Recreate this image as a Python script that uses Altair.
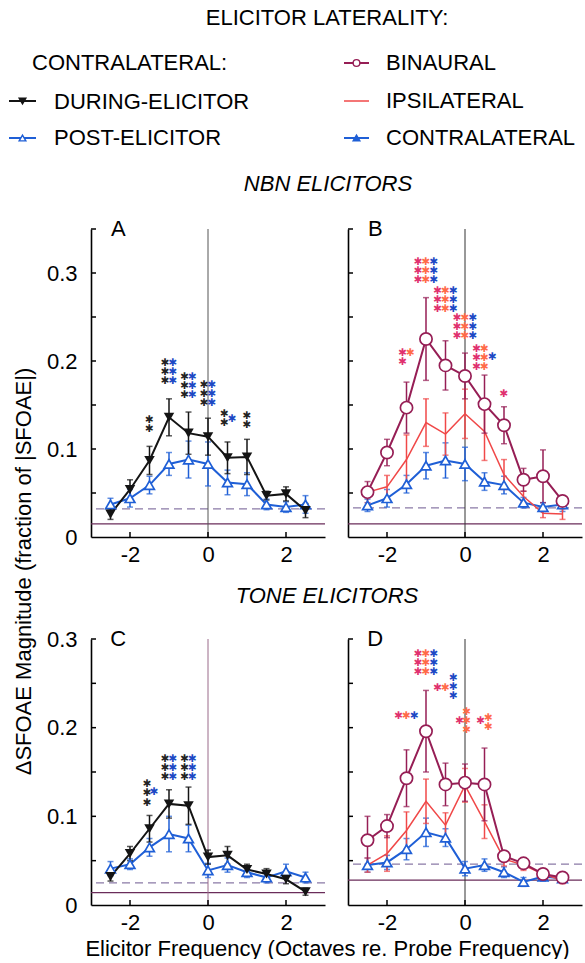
import altair as alt
import pandas as pd

FONT = "Liberation Sans"

# ---------------- data ----------------
X = [-2.5, -2.0, -1.5, -1.0, -0.5, 0.0, 0.5, 1.0, 1.5, 2.0, 2.5]

# Panel A : NBN elicitors, contralateral during / post
A_during = [0.026, 0.054, 0.087, 0.136, 0.118, 0.114, 0.090, 0.091, 0.047, 0.049, 0.030]
A_during_err = [0.006, 0.011, 0.016, 0.021, 0.024, 0.021, 0.018, 0.020, 0.005, 0.008, 0.008]
A_post = [0.037, 0.044, 0.059, 0.083, 0.088, 0.083, 0.062, 0.060, 0.037, 0.034, 0.037]
A_post_err = [0.007, 0.010, 0.010, 0.013, 0.021, 0.025, 0.014, 0.013, 0.006, 0.006, 0.010]

# Panel B : NBN elicitors, laterality
B_bin = [0.051, 0.096, 0.147, 0.225, 0.195, 0.183, 0.151, 0.127, 0.065, 0.069, 0.041]
B_bin_err = [0.012, 0.015, 0.029, 0.047, 0.028, 0.026, 0.033, 0.021, 0.013, 0.030, 0.005]
B_ipsi = [0.051, 0.057, 0.088, 0.130, 0.117, 0.140, 0.120, 0.071, 0.046, 0.027, 0.026]
B_ipsi_err = [0.006, 0.013, 0.028, 0.027, 0.024, 0.028, 0.033, 0.017, 0.006, 0.005, 0.006]
B_contra = [0.036, 0.044, 0.060, 0.081, 0.087, 0.083, 0.063, 0.059, 0.039, 0.034, 0.037]
B_contra_err = [0.007, 0.010, 0.010, 0.015, 0.020, 0.019, 0.010, 0.010, 0.006, 0.005, 0.008]

# Panel C : tone elicitors, contralateral during / post
C_during = [0.032, 0.058, 0.086, 0.114, 0.112, 0.054, 0.056, 0.040, 0.035, 0.029, 0.015]
C_during_err = [0.005, 0.008, 0.015, 0.016, 0.021, 0.008, 0.010, 0.006, 0.006, 0.005, 0.004]
C_post = [0.041, 0.046, 0.065, 0.080, 0.075, 0.039, 0.045, 0.037, 0.031, 0.038, 0.031]
C_post_err = [0.008, 0.006, 0.010, 0.020, 0.015, 0.008, 0.008, 0.006, 0.006, 0.008, 0.006]

# Panel D : tone elicitors, laterality
D_bin = [0.073, 0.089, 0.143, 0.196, 0.136, 0.138, 0.136, 0.055, 0.047, 0.035, 0.031]
D_bin_err = [0.027, 0.013, 0.032, 0.046, 0.024, 0.021, 0.041, 0.006, 0.005, 0.005, 0.004]
D_ipsi = [0.045, 0.058, 0.084, 0.117, 0.090, 0.135, 0.094, 0.052, 0.045, 0.035, 0.028]
D_ipsi_err = [0.008, 0.020, 0.021, 0.025, 0.014, 0.019, 0.019, 0.008, 0.006, 0.005, 0.004]
D_contra = [0.045, 0.048, 0.063, 0.082, 0.076, 0.041, 0.045, 0.037, 0.026, 0.032, 0.030]
D_contra_err = [0.008, 0.008, 0.012, 0.016, 0.010, 0.008, 0.007, 0.006, 0.005, 0.005, 0.004]

# reference lines (dashed, solid) per panel
A_REF = (0.032, 0.015)
B_REF = (0.033, 0.015)
C_REF = (0.025, 0.014)
D_REF = (0.046, 0.028)

# significance stars: (x, column, top value, count, series)
A_STARS = [(-1.5, 0, 0.133, 2, "k"),
           (-1.0, -0.5, 0.198, 3, "k"), (-1.0, 0.5, 0.198, 3, "b"),
           (-0.5, -0.5, 0.182, 3, "k"), (-0.5, 0.5, 0.182, 3, "b"),
           (0.0, -0.5, 0.173, 3, "k"), (0.0, 0.5, 0.173, 3, "b"),
           (0.5, -0.4, 0.140, 2, "k"), (0.5, 0.6, 0.134, 1, "b"),
           (1.0, 0, 0.137, 2, "k")]
B_STARS = [(-1.5, -0.5, 0.209, 2, "m"), (-1.5, 0.5, 0.209, 1, "r"),
           (-1.0, -1, 0.312, 3, "m"), (-1.0, 0, 0.312, 3, "r"), (-1.0, 1, 0.312, 3, "b"),
           (-0.5, -1, 0.279, 3, "m"), (-0.5, 0, 0.279, 3, "r"), (-0.5, 1, 0.279, 3, "b"),
           (0.0, -1, 0.249, 3, "m"), (0.0, 0, 0.249, 3, "r"), (0.0, 1, 0.249, 3, "b"),
           (0.5, -1, 0.214, 3, "m"), (0.5, 0, 0.214, 3, "r"), (0.5, 1, 0.204, 1, "b"),
           (1.0, 0, 0.162, 1, "m")]
C_STARS = [(-1.5, -0.3, 0.136, 3, "k"), (-1.5, 0.6, 0.127, 1, "b"),
           (-1.0, -0.5, 0.165, 3, "k"), (-1.0, 0.5, 0.165, 3, "b"),
           (-0.5, -0.5, 0.165, 3, "k"), (-0.5, 0.5, 0.165, 3, "b")]
D_STARS = [(-1.5, -1, 0.213, 1, "m"), (-1.5, 0, 0.213, 1, "r"), (-1.5, 1, 0.213, 1, "b"),
           (-1.0, -1, 0.283, 3, "m"), (-1.0, 0, 0.283, 3, "r"), (-1.0, 1, 0.283, 3, "b"),
           (-0.5, -1, 0.245, 1, "m"), (-0.5, 0, 0.245, 1, "r"), (-0.5, 1, 0.256, 3, "b"),
           (0.0, -0.7, 0.207, 1, "m"), (0.0, 0.2, 0.218, 3, "r"),
           (0.5, -0.5, 0.207, 1, "m"), (0.5, 0.5, 0.211, 2, "r")]

# legend / titles
LEGEND_TITLE = "ELICITOR LATERALITY:"
LEGEND_LEFT_HEAD = "CONTRALATERAL:"
LEGEND_LEFT = ["DURING-ELICITOR", "POST-ELICITOR"]
LEGEND_RIGHT = ["BINAURAL", "IPSILATERAL", "CONTRALATERAL"]
ROW_TITLES = ["NBN ELICITORS", "TONE ELICITORS"]
X_TITLE = "Elicitor Frequency (Octaves re. Probe Frequency)"
Y_TITLE = "\u0394SFOAE Magnitude (fraction of |SFOAE|)"

# ---------------- style ----------------
C_BLACK = "#141414"
C_BLUE = "#1f5fd6"
C_BIN = "#961e55"
C_IPSI = "#f04848"
STAR_COL = {"k": "#222222", "b": "#1c48c4", "m": "#e0306e", "r": "#ff6a48"}
PW = 234
STEP = 0.0102
COLW = 0.2


def sdf(vals, errs):
    return pd.DataFrame({"x": X, "y": vals,
                         "lo": [v - e for v, e in zip(vals, errs)],
                         "hi": [v + e for v, e in zip(vals, errs)]})


def panel(series, refs, stars, letter, ymax, h, ylabels, vcolor, titles=False, row_title=None):
    xs = alt.Scale(domain=[-3, 3], nice=False, zero=False)
    ys = alt.Scale(domain=[0, ymax], nice=False, zero=True)
    xa = dict(values=[-2, 0, 2], ticks=False, grid=False, labelExpr="'' + datum.value",
              labelFontSize=22, labelFont=FONT, labelColor="black", labelPadding=7,
              domainColor="black", domainWidth=1.6)
    ya = dict(values=[0, 0.1, 0.2, 0.3], ticks=False, grid=False, labelExpr="'' + datum.value",
              labelFontSize=22, labelFont=FONT, labelColor="black", labelPadding=14,
              domainColor="black", domainWidth=1.6, labels=ylabels)
    if titles:
        xa.update(title=X_TITLE, titleX=236, titleY=43, titleFontSize=22, titleFont=FONT,
                  titleFontWeight="normal", titleAlign="center", titleBaseline="middle",
                  titleColor="black")
        ya.update(title=Y_TITLE, titleX=-68, titleY=-68, titleAngle=270, titleFontSize=22,
                  titleFont=FONT, titleFontWeight="normal", titleAlign="center",
                  titleBaseline="middle", titleColor="black")
    else:
        xa.update(title=None)
        ya.update(title=None)
    xax = alt.Axis(**xa)
    yax = alt.Axis(**ya)

    def ex(f="x"):
        return alt.X(f + ":Q", scale=xs, axis=xax)

    def ey(f="y"):
        return alt.Y(f + ":Q", scale=ys, axis=yax)

    layers = []
    layers.append(alt.Chart(pd.DataFrame({"y": [refs[0]]}))
                  .mark_rule(color="#8a7aa6", strokeWidth=1.2, strokeDash=[8, 5]).encode(y=ey()))
    layers.append(alt.Chart(pd.DataFrame({"y": [refs[1]]}))
                  .mark_rule(color="#6a2c5a", strokeWidth=1.2).encode(y=ey()))
    layers.append(alt.Chart(pd.DataFrame({"x": [0.0]}))
                  .mark_rule(color=vcolor, strokeWidth=1).encode(x=ex()))
    # inward ticks
    yt = [round(0.05 * i, 2) for i in range(1, int(round(ymax / 0.05)) + 1)]
    layers.append(alt.Chart(pd.DataFrame({"y": yt})).mark_rule(color="black", strokeWidth=1.5)
                  .encode(y=ey(), x=alt.value(0), x2=alt.value(5)))
    layers.append(alt.Chart(pd.DataFrame({"x": [-2.0, 0.0, 2.0]}))
                  .mark_rule(color="black", strokeWidth=1.5)
                  .encode(x=ex(), y=alt.value(h), y2=alt.value(h - 5)))

    for s in series:
        df = sdf(s["v"], s["e"])
        base = alt.Chart(df)
        layers.append(base.mark_line(color=s["c"], strokeWidth=s.get("w", 2)).encode(x=ex(), y=ey()))
        layers.append(base.mark_rule(color=s["c"], strokeWidth=1.5).encode(x=ex(), y=ey("lo"), y2="hi:Q"))
        layers.append(base.mark_tick(color=s["c"], thickness=1.5, size=6, orient="horizontal")
                      .encode(x=ex(), y=ey("lo")))
        layers.append(base.mark_tick(color=s["c"], thickness=1.5, size=6, orient="horizontal")
                      .encode(x=ex(), y=ey("hi")))
    for s in series:
        if s.get("shape"):
            df = sdf(s["v"], s["e"])
            if s.get("filled"):
                mk = alt.Chart(df).mark_point(shape=s["shape"], filled=True, color=s["c"],
                                              size=s["size"], opacity=1)
            else:
                mk = alt.Chart(df).mark_point(shape=s["shape"], filled=True, fill="white",
                                              stroke=s["c"], strokeWidth=1.7,
                                              size=s["size"], opacity=1)
            layers.append(mk.encode(x=ex(), y=ey()))

    rows = []
    for (x0, col, top, n, key) in stars:
        for i in range(n):
            rows.append({"x": x0 + col * COLW, "y": top - i * STEP, "c": STAR_COL[key]})
    layers.append(alt.Chart(pd.DataFrame(rows))
                  .mark_text(text="\u2731", fontSize=10.5, baseline="middle", align="center",
                             font="DejaVu Sans")
                  .encode(x=ex(), y=ey(), color=alt.Color("c:N", scale=None)))
    layers.append(alt.Chart(pd.DataFrame({"x": [-2.3], "y": [ymax], "t": [letter]}))
                  .mark_text(fontSize=22, font=FONT, baseline="middle", align="center", color="black")
                  .encode(x=ex(), y=ey(), text="t:N"))
    if row_title is not None:
        # row heading centred over both panels, just above this panel
        layers.append(alt.Chart(pd.DataFrame({"x": [3.05], "y": [ymax], "t": [row_title]}))
                      .mark_text(fontSize=22, font=FONT, baseline="middle", align="center",
                                 fontStyle="italic", color="black", dy=-43)
                      .encode(x=ex(), y=ey(), text="t:N"))
    return alt.layer(*layers).properties(width=PW, height=h)


DUR = {"c": C_BLACK, "shape": "triangle-down", "filled": True, "size": 110}
POST = {"c": C_BLUE, "shape": "triangle-up", "size": 95}
BIN = {"c": C_BIN, "shape": "circle", "size": 150}
IPSI = {"c": C_IPSI, "w": 1.5}

pA = panel([dict(POST, v=A_post, e=A_post_err), dict(DUR, v=A_during, e=A_during_err)],
           A_REF, A_STARS, "A", 0.35, 308, True, "#555555")
pB = panel([dict(POST, v=B_contra, e=B_contra_err), dict(IPSI, v=B_ipsi, e=B_ipsi_err),
            dict(BIN, v=B_bin, e=B_bin_err)],
           B_REF, B_STARS, "B", 0.35, 308, False, "#333333")
pC = panel([dict(POST, v=C_post, e=C_post_err), dict(DUR, v=C_during, e=C_during_err)],
           C_REF, C_STARS, "C", 0.30, 266, True, "#9a6a8a", titles=True, row_title=ROW_TITLES[1])
pD = panel([dict(POST, v=D_contra, e=D_contra_err), dict(IPSI, v=D_ipsi, e=D_ipsi_err),
            dict(BIN, v=D_bin, e=D_bin_err)],
           D_REF, D_STARS, "D", 0.30, 266, False, "#333333")

# ---------------- header (legend + row title), in figure pixel coordinates ----------------
HY = alt.Scale(domain=[0, 126], nice=False, zero=False, reverse=True)


def header_cell(x0, x1, centered, italic, left_txt, lines, syms):
    hs = alt.Scale(domain=[x0, x1], nice=False, zero=False)
    hx = alt.X("x:Q", scale=hs, axis=None)
    hy = alt.Y("y:Q", scale=HY, axis=None)
    layers = []
    if lines is not None:
        layers.append(alt.Chart(lines).mark_rule().encode(
            x=hx, x2="x2:Q", y=hy, color=alt.Color("c:N", scale=None),
            strokeWidth=alt.StrokeWidth("w:Q", scale=None)))
    if syms is not None:
        layers.append(alt.Chart(syms).mark_point(filled=True, size=45, strokeWidth=1.4, opacity=1).encode(
            x=hx, y=hy, shape=alt.Shape("shape:N", scale=None),
            stroke=alt.Stroke("c:N", scale=None), fill=alt.Fill("f:N", scale=None)))
    if centered is not None:
        layers.append(alt.Chart(centered).mark_text(fontSize=22, font=FONT, align="center",
                                                    baseline="middle", color="black")
                      .encode(x=hx, y=hy, text="t:N"))
    if italic is not None:
        layers.append(alt.Chart(italic).mark_text(fontSize=22, font=FONT, align="center",
                                                  baseline="middle", fontStyle="italic", color="black")
                      .encode(x=hx, y=hy, text="t:N"))
    if left_txt is not None:
        layers.append(alt.Chart(left_txt).mark_text(fontSize=22, font=FONT, align="left",
                                                    baseline="middle", color="black")
                      .encode(x=hx, y=hy, text="t:N"))
    return alt.layer(*layers).properties(width=PW, height=126)


hL = header_cell(
    92, 326,
    pd.DataFrame({"t": [LEGEND_TITLE], "x": [328], "y": [17]}),
    pd.DataFrame({"t": [ROW_TITLES[0]], "x": [329], "y": [183]}),
    pd.DataFrame({"t": [LEGEND_LEFT_HEAD] + LEGEND_LEFT, "x": [33, 55, 55], "y": [62, 101, 137]}),
    pd.DataFrame({"x": [10, 10], "x2": [37, 37], "y": [100, 137], "c": [C_BLACK, C_BLUE], "w": [2, 2]}),
    pd.DataFrame({"x": [23.5, 23.5], "y": [100, 137], "shape": ["triangle-down", "triangle-up"],
                  "c": [C_BLACK, C_BLUE], "f": [C_BLACK, "white"]}),
)
hR = header_cell(
    349, 583, None, None,
    pd.DataFrame({"t": LEGEND_RIGHT, "x": [387, 387, 387], "y": [62, 100, 137]}),
    pd.DataFrame({"x": [345, 345, 345], "x2": [370, 370, 370], "y": [62, 100, 137],
                  "c": [C_BIN, C_IPSI, C_BLUE], "w": [2, 1.5, 2]}),
    pd.DataFrame({"x": [357.5, 357.5], "y": [62, 137], "shape": ["circle", "triangle-up"],
                  "c": [C_BIN, C_BLUE], "f": ["white", C_BLUE]}),
)

chart = alt.concat(hL, hR, pA, pB, pC, pD, columns=2, bounds="flush",
                   spacing={"row": 102, "column": 23}).properties(
    padding={"left": 8, "top": 1, "right": 0, "bottom": 0}
).configure_view(stroke=None)

chart.save("out.html", embed_options={"renderer": "svg", "actions": False})
